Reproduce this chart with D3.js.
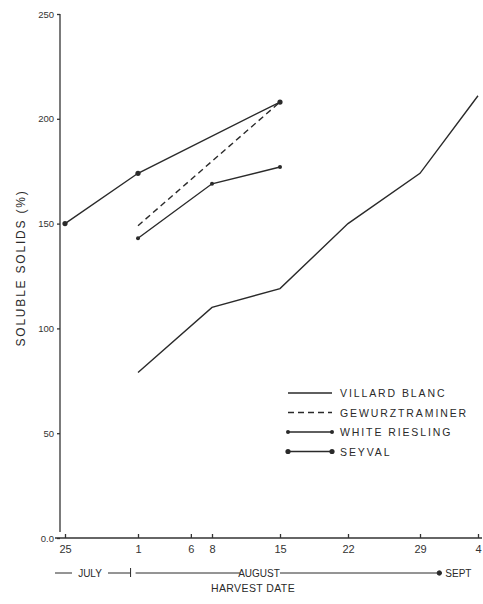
<!DOCTYPE html>
<html>
<head>
<meta charset="utf-8">
<script src="https://cdn.jsdelivr.net/npm/d3@7"></script>
<style>
  body { margin: 0; background: #fff; }
  svg { font-family: "Liberation Sans", "DejaVu Sans", sans-serif; }
  .axis path, .axis line { stroke: #333; stroke-width: 1.3; }
  .axis text { fill: #333; }
</style>
</head>
<body>
<svg id="chart" width="483" height="604"></svg>
<script>
// harvest dates (same season), values = soluble solids
const parseDay = d3.timeParse("%Y-%m-%d");
const tickDates = ["1980-07-25", "1980-08-01", "1980-08-06", "1980-08-08", "1980-08-15", "1980-08-22", "1980-08-29", "1980-09-04"];
const tickLabels = ["25", "1", "6", "8", "15", "22", "29", "4"];
const yTicks = [0, 50, 100, 150, 200, 250];

const villardDates = ["1980-08-01", "1980-08-08", "1980-08-15", "1980-08-22", "1980-08-29", "1980-09-04"];
const villardValues = [79, 110, 119, 150, 174, 211];
const gewurzDates = ["1980-08-01", "1980-08-15"];
const gewurzValues = [149, 208];
const rieslingDates = ["1980-08-01", "1980-08-08", "1980-08-15"];
const rieslingValues = [143, 169, 177];
const seyvalDates = ["1980-07-25", "1980-08-01", "1980-08-15"];
const seyvalValues = [150, 174, 208];

const seriesNames = ["VILLARD BLANC", "GEWURZTRAMINER", "WHITE RIESLING", "SEYVAL"];

const toPoints = (dates, values) => dates.map((d, i) => ({ date: parseDay(d), value: values[i] }));
const series = [
    { name: seriesNames[0], pts: toPoints(villardDates, villardValues), dash: null, marker: 0 },
    { name: seriesNames[1], pts: toPoints(gewurzDates, gewurzValues), dash: "6,4", marker: 0 },
    { name: seriesNames[2], pts: toPoints(rieslingDates, rieslingValues), dash: null, marker: 2 },
    { name: seriesNames[3], pts: toPoints(seyvalDates, seyvalValues), dash: null, marker: 2.6 }
];

const svg = d3.select("#chart");
const ink = "#2a2a2a";

// the hand-drawn date axis is not quite even, so the scale is piecewise over the weeks
const halfDay = 12 * 3600e3;
const weekDates = ["1980-07-25", "1980-08-01", "1980-08-08", "1980-08-15", "1980-08-22", "1980-08-29", "1980-09-04"].map(parseDay);
const x = d3.scaleTime()
    .domain([new Date(weekDates[0].getTime() - halfDay), ...weekDates, new Date(weekDates[6].getTime() + halfDay)])
    .range([60, 65, 138, 212, 280, 348, 420, 478, 483]);
const y = d3.scaleLinear().domain([0, 250]).range([538, 14]);

// y axis
const yAxis = d3.axisLeft(y)
    .tickValues(yTicks)
    .tickSize(3)
    .tickPadding(3)
    .tickFormat(d => d === 0 ? "0.0" : d);
svg.append("g").attr("class", "axis")
    .attr("transform", "translate(60,0)")
    .call(yAxis)
    .call(g => g.selectAll("text").attr("font-size", 9.5))
    .call(g => g.select(".domain").attr("d", `M0,${y(250)}V${y(0) - 6}`));

// x axis
const xAxis = d3.axisBottom(x)
    .tickValues(tickDates.map(parseDay))
    .tickSizeInner(-4)
    .tickSizeOuter(0)
    .tickPadding(7)
    .tickFormat((d, i) => tickLabels[i]);
svg.append("g").attr("class", "axis")
    .attr("transform", `translate(0,${y(0)})`)
    .call(xAxis)
    .call(g => g.selectAll("text").attr("font-size", 11))
    .call(g => g.select(".domain").attr("d", `M55,0H482`));

// month strip
const monthY = 573;
const strip = svg.append("g").attr("stroke", ink).attr("stroke-width", 1).attr("fill", ink)
    .attr("font-size", 10);
const julEnd = x(parseDay("1980-07-31")) + 3;
const augEnd = x(parseDay("1980-08-31"));
strip.append("line").attr("x1", 55).attr("x2", 72).attr("y1", monthY).attr("y2", monthY);
strip.append("text").attr("x", 90).attr("y", monthY + 3.5).attr("text-anchor", "middle").attr("stroke", "none").text("JULY");
strip.append("line").attr("x1", 108).attr("x2", julEnd).attr("y1", monthY).attr("y2", monthY);
strip.append("line").attr("x1", julEnd).attr("x2", julEnd).attr("y1", monthY - 5).attr("y2", monthY + 4);
strip.append("line").attr("x1", julEnd + 5).attr("x2", 240).attr("y1", monthY).attr("y2", monthY);
strip.append("text").attr("x", 259).attr("y", monthY + 3.5).attr("text-anchor", "middle").attr("stroke", "none").text("AUGUST");
strip.append("line").attr("x1", 280).attr("x2", augEnd).attr("y1", monthY).attr("y2", monthY);
strip.append("circle").attr("cx", augEnd).attr("cy", monthY).attr("r", 2.2);
strip.append("text").attr("x", augEnd + 6).attr("y", monthY + 3.5).attr("stroke", "none").text("SEPT");

svg.append("text").attr("x", 253).attr("y", 592).attr("text-anchor", "middle")
    .attr("fill", ink).attr("font-size", 10.5).attr("letter-spacing", 0.4).text("HARVEST DATE");

svg.append("text")
    .attr("transform", "translate(25,268) rotate(-90)")
    .attr("text-anchor", "middle").attr("fill", ink).attr("font-size", 12).attr("letter-spacing", 1.8)
    .text("SOLUBLE  SOLIDS (%)");

// lines
const line = d3.line().x(d => x(d.date)).y(d => y(d.value));
const plot = svg.append("g");
series.forEach(s => {
    plot.append("path")
        .datum(s.pts)
        .attr("fill", "none")
        .attr("stroke", ink)
        .attr("stroke-width", 1.4)
        .attr("stroke-dasharray", s.dash)
        .attr("d", line);
    if (s.marker) {
        plot.selectAll(null).data(s.pts).join("circle")
            .attr("cx", d => x(d.date)).attr("cy", d => y(d.value))
            .attr("r", s.marker).attr("fill", ink);
    }
});

// legend
const legend = svg.append("g").attr("transform", "translate(288,393)");
const rows = legend.selectAll("g").data(series).join("g")
    .attr("transform", (d, i) => `translate(0,${i * 19.5})`);
rows.append("line").attr("x1", 0).attr("x2", 44)
    .attr("stroke", ink).attr("stroke-width", 1.4)
    .attr("stroke-dasharray", d => d.dash);
rows.filter(d => d.marker).selectAll("circle").data(d => [0, 44].map(px => ({ px, r: d.marker }))).join("circle")
    .attr("cx", d => d.px).attr("r", d => d.r).attr("fill", ink);
rows.append("text").attr("x", 52).attr("y", 4)
    .attr("fill", ink).attr("font-size", 10.5).attr("letter-spacing", 1.9)
    .text(d => d.name);
</script>
</body>
</html>
